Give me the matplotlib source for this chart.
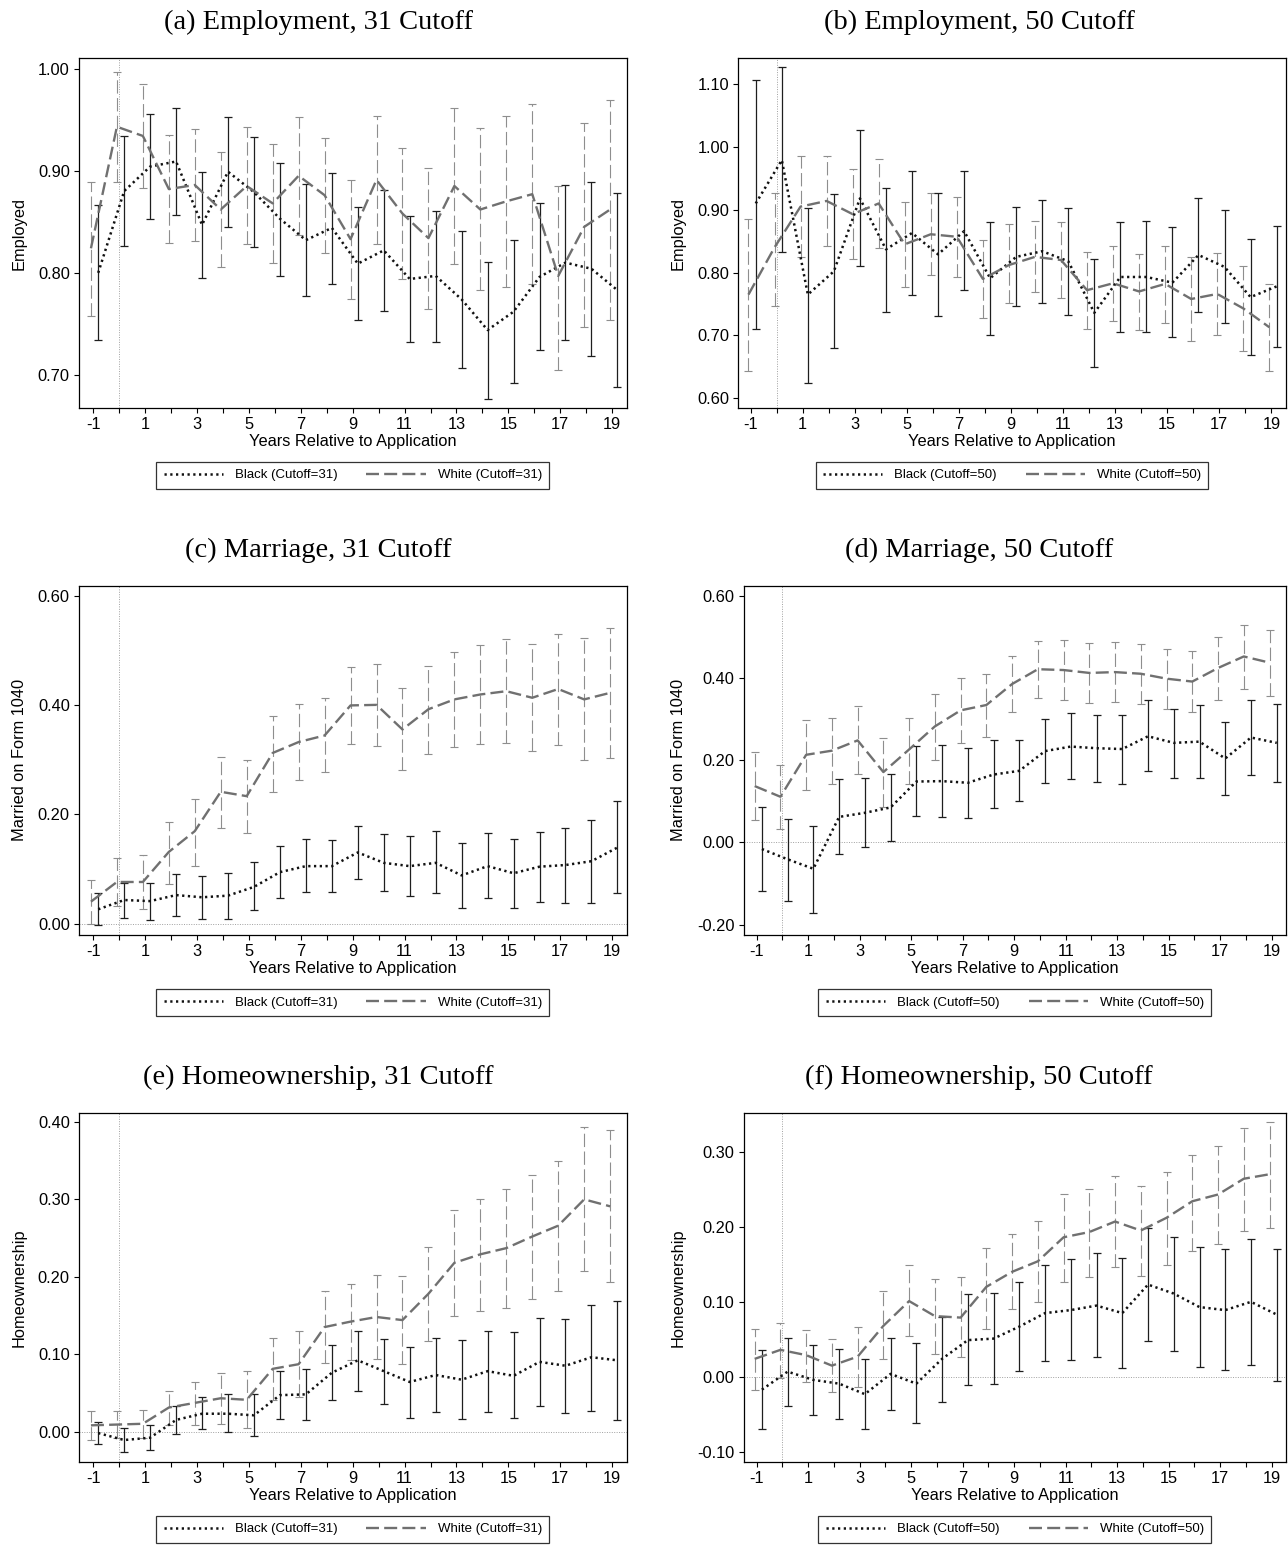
import numpy as np
import matplotlib.pyplot as plt
from matplotlib.ticker import FormatStrFormatter

plt.rcParams['font.family'] = ['Liberation Sans', 'DejaVu Sans']
plt.rcParams['axes.unicode_minus'] = False

years = np.arange(-1, 20)

# (a) employment, cutoff 31
emp31_black_est = [0.800, 0.880, 0.904, 0.909, 0.847, 0.899, 0.879, 0.853, 0.832, 0.844, 0.809, 0.822, 0.794, 0.797, 0.774, 0.744, 0.762, 0.796, 0.810, 0.804, 0.783]
emp31_black_lo = [0.734, 0.826, 0.853, 0.857, 0.795, 0.845, 0.825, 0.797, 0.777, 0.789, 0.754, 0.763, 0.732, 0.732, 0.707, 0.677, 0.692, 0.724, 0.734, 0.719, 0.688]
emp31_black_hi = [0.866, 0.934, 0.955, 0.961, 0.899, 0.953, 0.933, 0.908, 0.887, 0.898, 0.864, 0.881, 0.856, 0.861, 0.841, 0.811, 0.832, 0.868, 0.886, 0.889, 0.878]
emp31_white_est = [0.824, 0.943, 0.934, 0.882, 0.886, 0.862, 0.885, 0.868, 0.895, 0.876, 0.833, 0.891, 0.858, 0.834, 0.885, 0.862, 0.870, 0.877, 0.797, 0.845, 0.862]
emp31_white_lo = [0.758, 0.889, 0.883, 0.829, 0.831, 0.806, 0.828, 0.810, 0.837, 0.819, 0.774, 0.828, 0.794, 0.765, 0.809, 0.783, 0.786, 0.789, 0.705, 0.747, 0.754]
emp31_white_hi = [0.889, 0.997, 0.985, 0.935, 0.941, 0.918, 0.943, 0.926, 0.953, 0.932, 0.891, 0.954, 0.922, 0.903, 0.961, 0.942, 0.954, 0.965, 0.885, 0.947, 0.969]

# (b) employment, cutoff 50
emp50_black_est = [0.910, 0.979, 0.765, 0.802, 0.918, 0.837, 0.863, 0.829, 0.866, 0.791, 0.825, 0.834, 0.818, 0.736, 0.793, 0.793, 0.784, 0.828, 0.809, 0.761, 0.778]
emp50_black_lo = [0.711, 0.832, 0.625, 0.680, 0.811, 0.737, 0.765, 0.731, 0.772, 0.701, 0.747, 0.751, 0.733, 0.650, 0.706, 0.705, 0.697, 0.738, 0.719, 0.669, 0.682]
emp50_black_hi = [1.107, 1.127, 0.902, 0.925, 1.027, 0.935, 0.961, 0.927, 0.961, 0.880, 0.904, 0.916, 0.902, 0.822, 0.880, 0.882, 0.872, 0.918, 0.900, 0.853, 0.874]
emp50_white_est = [0.765, 0.840, 0.905, 0.914, 0.893, 0.910, 0.845, 0.861, 0.857, 0.790, 0.812, 0.825, 0.820, 0.772, 0.783, 0.770, 0.782, 0.758, 0.766, 0.743, 0.713]
emp50_white_lo = [0.644, 0.747, 0.825, 0.842, 0.822, 0.839, 0.777, 0.796, 0.793, 0.728, 0.752, 0.769, 0.759, 0.711, 0.723, 0.709, 0.720, 0.691, 0.701, 0.676, 0.644]
emp50_white_hi = [0.886, 0.926, 0.985, 0.986, 0.965, 0.981, 0.912, 0.927, 0.921, 0.852, 0.877, 0.882, 0.880, 0.832, 0.843, 0.830, 0.843, 0.825, 0.831, 0.811, 0.782]

# (c) marriage, cutoff 31
mar31_black_est = [0.026, 0.043, 0.041, 0.052, 0.048, 0.051, 0.067, 0.094, 0.105, 0.105, 0.130, 0.111, 0.105, 0.111, 0.088, 0.105, 0.092, 0.104, 0.107, 0.114, 0.139]
mar31_black_lo = [-0.003, 0.011, 0.007, 0.014, 0.008, 0.009, 0.024, 0.047, 0.058, 0.058, 0.081, 0.060, 0.051, 0.055, 0.029, 0.046, 0.029, 0.040, 0.038, 0.038, 0.056]
mar31_black_hi = [0.055, 0.074, 0.074, 0.090, 0.087, 0.093, 0.112, 0.141, 0.154, 0.152, 0.179, 0.164, 0.161, 0.169, 0.147, 0.166, 0.154, 0.168, 0.175, 0.189, 0.224]
mar31_white_est = [0.040, 0.076, 0.076, 0.131, 0.169, 0.241, 0.233, 0.312, 0.332, 0.344, 0.399, 0.400, 0.355, 0.392, 0.410, 0.419, 0.425, 0.413, 0.429, 0.410, 0.422]
mar31_white_lo = [-0.001, 0.032, 0.027, 0.073, 0.106, 0.175, 0.166, 0.241, 0.263, 0.277, 0.328, 0.325, 0.280, 0.311, 0.323, 0.328, 0.331, 0.315, 0.327, 0.299, 0.303]
mar31_white_hi = [0.080, 0.120, 0.126, 0.186, 0.227, 0.305, 0.300, 0.379, 0.401, 0.413, 0.470, 0.475, 0.431, 0.471, 0.497, 0.509, 0.521, 0.512, 0.530, 0.522, 0.541]

# (d) marriage, cutoff 50
mar50_black_est = [-0.016, -0.041, -0.064, 0.062, 0.072, 0.085, 0.148, 0.149, 0.145, 0.165, 0.174, 0.222, 0.233, 0.229, 0.227, 0.258, 0.242, 0.245, 0.204, 0.255, 0.242]
mar50_black_lo = [-0.118, -0.142, -0.171, -0.029, -0.012, 0.004, 0.064, 0.062, 0.060, 0.084, 0.100, 0.145, 0.154, 0.146, 0.143, 0.173, 0.157, 0.157, 0.116, 0.165, 0.148]
mar50_black_hi = [0.085, 0.056, 0.041, 0.154, 0.157, 0.167, 0.234, 0.236, 0.230, 0.248, 0.249, 0.301, 0.314, 0.310, 0.310, 0.345, 0.325, 0.335, 0.292, 0.345, 0.337]
mar50_white_est = [0.137, 0.111, 0.213, 0.223, 0.248, 0.171, 0.226, 0.282, 0.321, 0.334, 0.385, 0.421, 0.419, 0.412, 0.414, 0.410, 0.398, 0.391, 0.424, 0.452, 0.437]
mar50_white_lo = [0.054, 0.032, 0.128, 0.143, 0.166, 0.086, 0.143, 0.201, 0.242, 0.256, 0.316, 0.351, 0.345, 0.339, 0.341, 0.337, 0.325, 0.316, 0.347, 0.373, 0.357]
mar50_white_hi = [0.220, 0.189, 0.297, 0.302, 0.331, 0.255, 0.303, 0.361, 0.399, 0.410, 0.453, 0.490, 0.493, 0.485, 0.486, 0.482, 0.470, 0.465, 0.499, 0.529, 0.517]

# (e) homeownership, cutoff 31
home31_black_est = [-0.002, -0.011, -0.008, 0.015, 0.023, 0.023, 0.021, 0.047, 0.048, 0.076, 0.092, 0.078, 0.064, 0.073, 0.067, 0.078, 0.072, 0.090, 0.085, 0.096, 0.092]
home31_black_lo = [-0.016, -0.026, -0.024, -0.003, 0.003, -0.001, -0.006, 0.016, 0.015, 0.041, 0.053, 0.035, 0.018, 0.025, 0.016, 0.025, 0.017, 0.033, 0.024, 0.027, 0.015]
home31_black_hi = [0.012, 0.004, 0.008, 0.033, 0.044, 0.048, 0.048, 0.078, 0.081, 0.112, 0.130, 0.120, 0.109, 0.121, 0.118, 0.130, 0.128, 0.147, 0.146, 0.164, 0.169]
home31_white_est = [0.008, 0.009, 0.010, 0.031, 0.037, 0.043, 0.041, 0.081, 0.087, 0.135, 0.142, 0.148, 0.144, 0.178, 0.218, 0.229, 0.237, 0.252, 0.266, 0.300, 0.291]
home31_white_lo = [-0.011, -0.008, -0.008, 0.009, 0.009, 0.010, 0.004, 0.041, 0.044, 0.089, 0.092, 0.094, 0.087, 0.117, 0.149, 0.156, 0.160, 0.171, 0.182, 0.208, 0.193]
home31_white_hi = [0.027, 0.027, 0.028, 0.053, 0.064, 0.076, 0.078, 0.121, 0.130, 0.181, 0.191, 0.202, 0.201, 0.238, 0.286, 0.301, 0.313, 0.332, 0.349, 0.393, 0.390]

# (f) homeownership, cutoff 50
home50_black_est = [-0.017, 0.007, -0.004, -0.009, -0.023, 0.004, -0.009, 0.024, 0.049, 0.051, 0.067, 0.085, 0.089, 0.095, 0.085, 0.123, 0.111, 0.093, 0.089, 0.100, 0.083]
home50_black_lo = [-0.069, -0.039, -0.051, -0.056, -0.069, -0.044, -0.062, -0.033, -0.011, -0.010, 0.008, 0.021, 0.022, 0.026, 0.012, 0.048, 0.035, 0.013, 0.009, 0.016, -0.006]
home50_black_hi = [0.036, 0.052, 0.043, 0.037, 0.024, 0.052, 0.045, 0.080, 0.110, 0.112, 0.126, 0.149, 0.157, 0.165, 0.158, 0.198, 0.186, 0.173, 0.170, 0.184, 0.170]
home50_white_est = [0.024, 0.036, 0.029, 0.015, 0.027, 0.068, 0.101, 0.081, 0.079, 0.120, 0.140, 0.154, 0.186, 0.193, 0.207, 0.195, 0.212, 0.234, 0.243, 0.264, 0.270]
home50_white_lo = [-0.017, -0.001, -0.007, -0.020, -0.013, 0.024, 0.054, 0.031, 0.027, 0.064, 0.090, 0.100, 0.127, 0.133, 0.147, 0.134, 0.149, 0.168, 0.177, 0.195, 0.199]
home50_white_hi = [0.064, 0.072, 0.063, 0.051, 0.067, 0.114, 0.149, 0.131, 0.133, 0.172, 0.191, 0.208, 0.244, 0.251, 0.267, 0.255, 0.273, 0.296, 0.307, 0.332, 0.340]

W, H = 1288, 1547


def px_rect(left, top, right, bottom):
    """pixel box -> figure fraction rect"""
    return [left / W, 1 - bottom / H, (right - left) / W, (bottom - top) / H]


def draw_panel(fig, rect, title, title_x, ylabel, cutoff, black, white, xlim, ylim, yticks, zero_line):
    ax = fig.add_axes(px_rect(*rect))
    b_est, b_lo, b_hi = [np.asarray(v) for v in black]
    w_est, w_lo, w_hi = [np.asarray(v) for v in white]
    xb = years + 0.2      # black estimates shifted right
    xw = years - 0.08     # white estimates shifted left

    ax.axvline(0, color='#a0a0a0', lw=0.7, ls=(0, (1, 1.5)), zorder=0)
    if zero_line:
        ax.axhline(0, color='#a0a0a0', lw=0.7, ls=(0, (1, 1.5)), zorder=0)

    eb = ax.errorbar(xw, w_est, yerr=[w_est - w_lo, w_hi - w_est], fmt='none',
                     ecolor='#8e8e8e', elinewidth=0.8, capsize=2.6, capthick=0.8, zorder=2)
    eb[2][0].set_linestyle((0, (12, 4)))
    ax.errorbar(xb, b_est, yerr=[b_est - b_lo, b_hi - b_est], fmt='none',
                ecolor='#1e1e1e', elinewidth=0.9, capsize=2.6, capthick=0.9, zorder=3)

    ax.plot(xb, b_est, color='#111111', lw=1.8, ls=(0, (0.9, 1.4)), zorder=4,
            label='Black (Cutoff=%d)' % cutoff)
    ax.plot(xw, w_est, color='#707070', lw=1.7, ls=(0, (5.5, 2.2)), zorder=4,
            label='White (Cutoff=%d)' % cutoff)

    ax.set_xlim(*xlim)
    ax.set_ylim(*ylim)
    ax.set_xticks(range(-1, 20, 2))
    ax.set_xticks(range(0, 20, 2), minor=True)
    ax.set_yticks(yticks)
    ax.yaxis.set_major_formatter(FormatStrFormatter('%.2f'))
    ax.tick_params(which='both', direction='out', length=3.6, width=0.8, labelsize=11.8, pad=3)
    for s in ax.spines.values():
        s.set_linewidth(0.9)

    ax.set_xlabel('Years Relative to Application', fontsize=11.8, labelpad=1.5)
    ax.set_ylabel(ylabel, fontsize=11.8, labelpad=8)

    leg = ax.legend(loc='upper center', bbox_to_anchor=(0.5, -0.155), ncol=2, fontsize=9.5,
                    frameon=True, fancybox=False, borderaxespad=0, handlelength=4.5,
                    handletextpad=0.9, columnspacing=2.2, borderpad=0.55)
    leg.get_frame().set_edgecolor('black')
    leg.get_frame().set_linewidth(0.9)

    top = rect[1]
    fig.text(title_x / W, 1 - (top - 29) / H, title, ha='center', va='baseline',
             family='Liberation Serif', fontsize=20.5)
    return ax


if __name__ == '__main__':
    fig = plt.figure(figsize=(W / 100, H / 100), dpi=100)

    left_x = (-1.54, 19.55)
    draw_panel(fig, (79, 58.3, 626.5, 407.7), '(a) Employment, 31 Cutoff', 318, 'Employed', 31,
               (emp31_black_est, emp31_black_lo, emp31_black_hi),
               (emp31_white_est, emp31_white_lo, emp31_white_hi),
               left_x, (0.668, 1.010), [0.70, 0.80, 0.90, 1.00], False)
    draw_panel(fig, (738.3, 58.3, 1286, 407.7), '(b) Employment, 50 Cutoff', 979, 'Employed', 50,
               (emp50_black_est, emp50_black_lo, emp50_black_hi),
               (emp50_white_est, emp50_white_lo, emp50_white_hi),
               (-1.47, 19.56), (0.585, 1.141), [0.60, 0.70, 0.80, 0.90, 1.00, 1.10], False)
    draw_panel(fig, (79, 585.7, 626.5, 935), '(c) Marriage, 31 Cutoff', 318, 'Married on Form 1040', 31,
               (mar31_black_est, mar31_black_lo, mar31_black_hi),
               (mar31_white_est, mar31_white_lo, mar31_white_hi),
               left_x, (-0.021, 0.618), [0.0, 0.2, 0.4, 0.6], True)
    draw_panel(fig, (743.6, 585.7, 1286, 935), '(d) Marriage, 50 Cutoff', 979, 'Married on Form 1040', 50,
               (mar50_black_est, mar50_black_lo, mar50_black_hi),
               (mar50_white_est, mar50_white_lo, mar50_white_hi),
               (-1.51, 19.56), (-0.225, 0.624), [-0.2, 0.0, 0.2, 0.4, 0.6], True)
    draw_panel(fig, (79, 1112.7, 626.5, 1461.7), '(e) Homeownership, 31 Cutoff', 318, 'Homeownership', 31,
               (home31_black_est, home31_black_lo, home31_black_hi),
               (home31_white_est, home31_white_lo, home31_white_hi),
               left_x, (-0.039, 0.412), [0.0, 0.1, 0.2, 0.3, 0.4], True)
    draw_panel(fig, (743.6, 1112.7, 1286, 1461.7), '(f) Homeownership, 50 Cutoff', 979, 'Homeownership', 50,
               (home50_black_est, home50_black_lo, home50_black_hi),
               (home50_white_est, home50_white_lo, home50_white_hi),
               (-1.51, 19.56), (-0.113, 0.352), [-0.1, 0.0, 0.1, 0.2, 0.3], True)

    fig.savefig('out.png', dpi=100, facecolor='white')
